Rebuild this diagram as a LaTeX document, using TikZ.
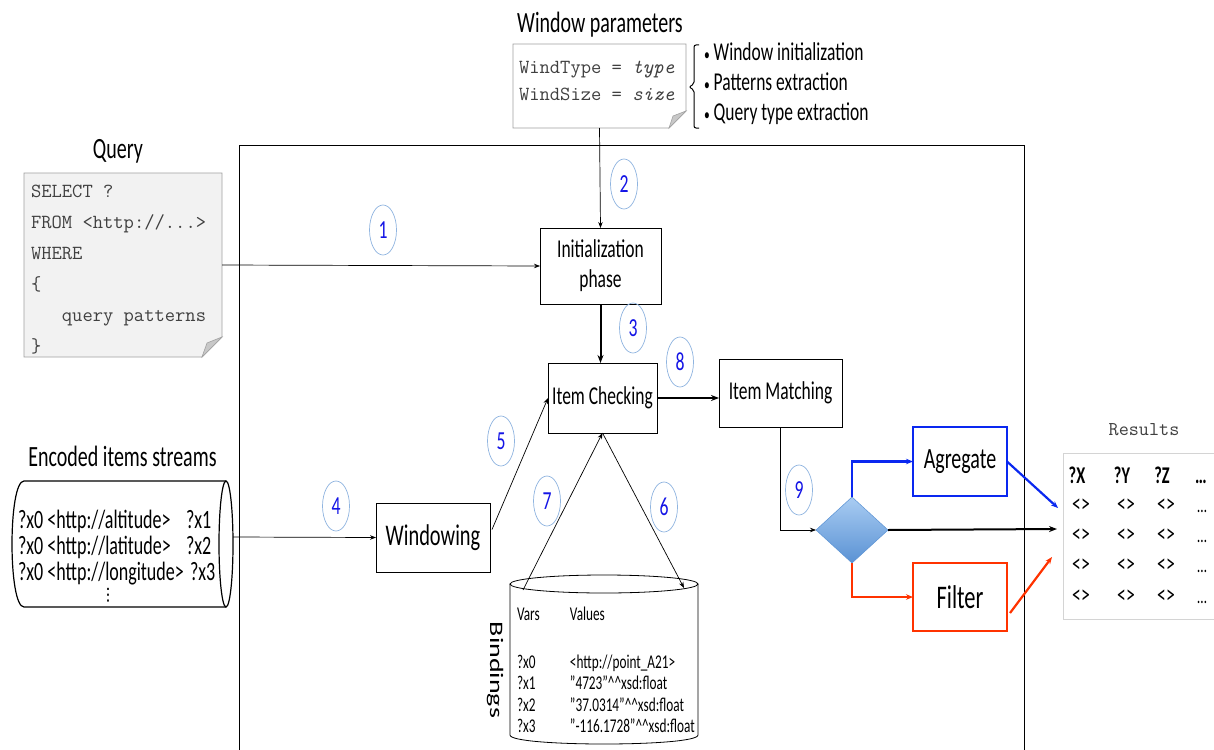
\documentclass[tikz,border=0pt]{standalone}
\usepackage{fontspec}
\setmainfont{Carlito}[FakeStretch=0.68]
\newfontfamily\plainfont{Carlito}
\newfontfamily\djv{DejaVu Sans}
\usetikzlibrary{shapes.geometric,arrows.meta,calc}
\definecolor{numblue}{HTML}{1414E6}
\definecolor{circline}{HTML}{8FB4E0}
\definecolor{agblue}{HTML}{0A28F0}
\definecolor{fred}{HTML}{FF3300}
\definecolor{monotxt}{HTML}{404040}
\definecolor{noteline}{HTML}{A0A0A0}
\definecolor{notefill}{HTML}{F2F2F2}
\definecolor{foldfill}{HTML}{C8C8C8}
\definecolor{diatop}{HTML}{A9CCF2}
\definecolor{diabot}{HTML}{5A92D4}
\definecolor{tabline}{HTML}{D4D4D4}
\newcommand{\myfs}[2]{\fontsize{#1}{#2}\selectfont}
\newcommand{\smallbullet}{{\myfs{17}{20}\textbullet}\ }
\begin{document}
\begin{tikzpicture}[x=1pt,y=-1pt,
  every node/.style={inner sep=0pt, outer sep=0pt},
  num/.style={ellipse, draw=circline, line width=0.7pt, minimum width=27pt, minimum height=50pt, text=numblue, font=\myfs{26}{28}},
  arr/.style={-{Stealth[length=6pt,width=4.5pt]}, line width=0.7pt},
  boldarr/.style={-{Stealth[length=8pt,width=6pt]}, line width=2pt},
  colarr/.style={-{Stealth[length=7pt,width=5.5pt]}, line width=2.2pt},
  stage/.style={draw, line width=0.8pt, fill=white, align=center, font=\myfs{25.7}{30}},
  monoline/.style={anchor=base west, text=monotxt, font=\ttfamily\myfs{20}{22}},
  title/.style={anchor=base, font=\myfs{29.4}{31}},
  bullet/.style={anchor=base west, font=\myfs{25.7}{27}},
  streamtxt/.style={anchor=base west, font=\myfs{26.5}{30}},
  cell/.style={anchor=base, font=\myfs{26}{28}},
  head/.style={anchor=base, font=\bfseries\myfs{24}{26}},
]
\clip (0,0) rectangle (1214,749);
\fill[white] (0,0) rectangle (1214,749);

% main frame
\draw[line width=0.8pt] (239,770) -- (239,145) -- (1024,145) -- (1024,770);

% window parameters
\node[title] (wptitle) at (600,33) {Window parameters};
\node[minimum width=173pt, minimum height=84pt] (wp) at (599.5,86) {};
\draw[noteline, fill=white, line width=0.8pt] (wp.north west) -- (wp.north east) -- ($(wp.south east)+(0,-17)$) -- ($(wp.south east)+(-17,0)$) -- (wp.south west) -- cycle;
\draw[noteline, fill=foldfill, line width=0.6pt] ($(wp.south east)+(0,-17)$) -- ($(wp.south east)+(-17,0)$) -- ($(wp.south east)+(-13,-12)$) -- cycle;
\node[monoline] (wt1) at (519,74) {WindType = \textit{type}};
\node[monoline] (wt2) at (519,101) {WindSize = \textit{size}};
\draw[line width=1pt, rounded corners=2pt] (699,45) -- (694,45) -- (694,84) -- (689,87) -- (694,90) -- (694,128) -- (699,128);
\node[bullet] (b1) at (704,61) {\smallbullet Window initialization};
\node[bullet] (b2) at (704,91) {\smallbullet Patterns extraction};
\node[bullet] (b3) at (704,121) {\smallbullet Query type extraction};

% query
\node[title] (qtitle) at (118,158) {Query};
\node[minimum width=198pt, minimum height=184pt] (query) at (123,265) {};
\draw[noteline, fill=notefill, line width=0.8pt] (query.north west) -- (query.north east) -- ($(query.south east)+(0,-20)$) -- ($(query.south east)+(-20,0)$) -- (query.south west) -- cycle;
\draw[noteline, fill=foldfill, line width=0.6pt] ($(query.south east)+(0,-20)$) -- ($(query.south east)+(-20,0)$) -- ($(query.south east)+(-15,-14)$) -- cycle;
\node[monoline] (q1) at (31,197) {SELECT ?};
\node[monoline] (q2) at (31,228) {FROM <http://...>};
\node[monoline] (q3) at (31,259) {WHERE};
\node[monoline] (q4) at (31,290) {\{};
\node[monoline] (q5) at (31,321) {\phantom{xxx}query patterns};
\node[monoline] (q6) at (31,352) {\}};

% stages
\node[stage, minimum width=121pt, minimum height=76pt] (init) at (600.5,266) {Initialization\\phase};
\node[stage, minimum width=109pt, minimum height=70pt] (ic) at (602.5,398) {Item Checking};
\node[stage, minimum width=123pt, minimum height=68pt] (im) at (780.5,393) {Item Matching};
\node[stage, font=\myfs{30}{32}, minimum width=114pt, minimum height=69pt] (win) at (433,537.5) {Windowing};
\node[stage, draw=agblue, line width=1.8pt, font=\myfs{29.4}{31}, minimum width=94pt, minimum height=69pt] (agg) at (960,461.5) {Agregate};
\node[stage, draw=fred, line width=1.8pt, font=\myfs{33}{35}, minimum width=94pt, minimum height=68pt] (fil) at (960,597) {Filter};
\node[diamond, draw=diabot, top color=diatop, bottom color=diabot, minimum width=72pt, minimum height=66pt, line width=0.5pt] (dia) at (852,530) {};

% encoded items streams
\node[title] (enctitle) at (122.5,466) {Encoded items streams};
\draw[line width=1.2pt, fill=white] (226,481) -- (24,481) .. controls (8,481) and (8,607) .. (24,607) -- (226,607);
\draw[line width=1.2pt] (226,544) ellipse [x radius=7pt, y radius=63pt];
\coordinate (encE) at (233,537);
\node[streamtxt] (s1) at (18,528) {?x0 <http://altitude>};
\node[streamtxt] (s2) at (18,554) {?x0 <http://latitude>};
\node[streamtxt] (s3) at (18,580) {?x0 <http://longitude>};
\node[streamtxt] (v1) at (186,528) {?x1};
\node[streamtxt] (v2) at (186,554) {?x2};
\node[streamtxt] (v3) at (190,580) {?x3};
\node[font=\djv\myfs{17}{20}] (vd) at (108,595) {⋮};

% bindings
\draw[line width=0.8pt, fill=white] (510,584) -- (510,735) .. controls (510,747) and (698,747) .. (698,735) -- (698,584);
\draw[line width=0.8pt] (604,584) ellipse [x radius=94pt, y radius=9pt];
\coordinate (b7) at (523,590);
\coordinate (b6) at (684,588);
\node[anchor=north west, font=\myfs{19.5}{21.5}] (btab) at (517,605) {\begin{tabular}{@{}p{53pt}@{}l@{}}Vars & Values\\[26.5pt] ?x0 & <http://point\_A21>\\ ?x1 & "4723"\textasciicircum\textasciicircum xsd:float\\ ?x2 & "37.0314"\textasciicircum\textasciicircum xsd:float\\ ?x3 & "-116.1728"\textasciicircum\textasciicircum xsd:float\end{tabular}};
\node[rotate=-90] (blabel) at (495,670) {\scalebox{1}[0.68]{\plainfont\myfs{28}{30}Bindings}};

% results
\node[anchor=base, text=monotxt, font=\ttfamily\myfs{19.6}{22}] (restitle) at (1144,435) {Results};
\node[draw=tabline, line width=1pt, minimum width=167pt, minimum height=166pt] (res) at (1146.5,536) {};
\coordinate (resblue) at (1058,508);
\coordinate (resin) at (1057,529);
\coordinate (resred) at (1052,557);
\node[head] (hx) at (1077,483) {?X};
\node[head] (hy) at (1122,483) {?Y};
\node[head] (hz) at (1162,483) {?Z};
\node[head] (hd) at (1201,483) {\dots};
\foreach \yy [count=\i] in {512.5,542.5,572.5,603.5} {
  \node[cell] (r\i-1) at (1081,\yy) {<>};
  \node[cell] (r\i-2) at (1126,\yy) {<>};
  \node[cell] (r\i-3) at (1166,\yy) {<>};
  \node[cell, font=\myfs{20}{22}] (r\i-4) at (1202,\yy) {\dots};
}

% numbers
\node[num] (n1) at (383,230) {1};
\node[num] (n2) at (624,184) {2};
\node[num] (n3) at (633,328) {3};
\node[num] (n4) at (336,506) {4};
\node[num] (n5) at (501,441) {5};
\node[num] (n6) at (664,507) {6};
\node[num] (n7) at (547,501) {7};
\node[num] (n8) at (680,362) {8};
\node[num] (n9) at (799,490) {9};

% connectors
\draw[arr] (query.east) -- (init.west);
\draw[arr] (wp.south) -- (init.north);
\draw[boldarr] (init.south) -- (init.south |- ic.north);
\draw[boldarr] (ic.east) -- (ic.east -| im.west);
\draw[arr] (encE) -- (win.west);
\draw[arr] ($(win.east)+(2,-8)$) -- (ic.west);
\draw[arr] (b7) -- (ic.south);
\draw[arr] (ic.south) -- (b6);
\draw[arr] (im.south) |- (dia.west);
\draw[colarr, agblue] (dia.north) |- (agg.west);
\draw[colarr, fred] (dia.south) |- (fil.west);
\draw[boldarr] (dia.east) -- (resin);
\draw[colarr, agblue] (agg.east) -- (resblue);
\draw[colarr, fred] ($(fil.east)+(3,16)$) -- (resred);
\end{tikzpicture}
\end{document}
